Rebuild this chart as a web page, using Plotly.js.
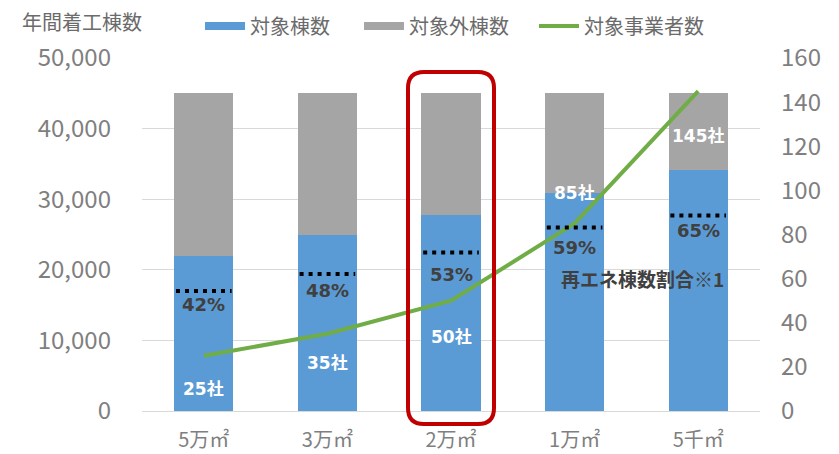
<!DOCTYPE html>
<html>
<head>
<meta charset="utf-8">
<script src="https://cdn.plot.ly/plotly-3.0.1.min.js"></script>
<style>html,body{margin:0;padding:0;background:#fff;}#chart{width:839px;height:454px;}</style>
</head>
<body>
<div id="chart"></div>
<script>
// ---- data ----
const categories = ['5万㎡', '3万㎡', '2万㎡', '1万㎡', '5千㎡'];
const targetBuildings = [22000, 25000, 27800, 30900, 34200];      // 対象棟数
const nonTargetBuildings = [23000, 20000, 17200, 14100, 10800];   // 対象外棟数
const companies = [25, 35, 50, 85, 145];                          // 対象事業者数
const renewableShare = [42, 48, 53, 59, 65];                      // 再エネ棟数割合 (%)
const renewableBuildings = [17000, 19400, 22450, 26000, 27700];   // 再エネ棟数 (dotted markers)
const seriesNames = ['対象棟数', '対象外棟数', '対象事業者数'];
const highlightIndex = 2;

// ---- styles ----
const BLUE = '#5B9BD5', GRAY = '#A5A5A5', GREEN = '#70AD47', RED = '#C00000';
const JP = '"Noto Sans CJK JP", "Noto Sans", sans-serif';
const BOLD = '"DejaVu Sans", "Noto Sans CJK JP", sans-serif';
const M = {l: 142, r: 79, t: 58, b: 43, autoexpand: false};
const W = 839, H = 454;
const PW = W - M.l - M.r, PH = H - M.t - M.b;
const legendPad = ['\u2003\u2009', '\u2003', ''];

const traces = [];
traces.push({type: 'bar', x: categories, y: targetBuildings, marker: {color: BLUE}, showlegend: false, hoverinfo: 'skip'});
traces.push({type: 'bar', x: categories, y: nonTargetBuildings, marker: {color: GRAY}, showlegend: false, hoverinfo: 'skip'});
traces.push({type: 'scatter', mode: 'lines', x: categories, y: companies, yaxis: 'y2', line: {color: GREEN, width: 4}, showlegend: false, hoverinfo: 'skip'});
// dotted ratio markers
renewableBuildings.forEach((v, i) => {
  traces.push({type: 'scatter', mode: 'lines', xaxis: 'x2', yaxis: 'y', x: [i - 0.225, i + 0.225], y: [v, v],
    line: {color: '#000', width: 4, dash: '4px,5px'}, showlegend: false, hoverinfo: 'skip'});
});
// legend entries
traces.push({type: 'scatter', mode: 'lines', x: [null], y: [null], name: seriesNames[0] + legendPad[0], line: {color: BLUE, width: 8}});
traces.push({type: 'scatter', mode: 'lines', x: [null], y: [null], name: seriesNames[1] + legendPad[1], line: {color: GRAY, width: 8}});
traces.push({type: 'scatter', mode: 'lines', x: [null], y: [null], name: seriesNames[2] + legendPad[2], line: {color: GREEN, width: 4}});

const annotations = [];
const compShift = [-33, -29, -36, 30, -45];
companies.forEach((c, i) => {
  annotations.push({x: categories[i], y: c, xref: 'x', yref: 'y2', yshift: compShift[i], text: c + '社', showarrow: false,
    font: {family: BOLD, size: 17, color: '#fff', weight: 'bold'}});
});
const pctShift = [-14, -16, -22, -20, -15];
renewableShare.forEach((p, i) => {
  annotations.push({x: i, y: renewableBuildings[i], xref: 'x2', yref: 'y', yshift: pctShift[i], text: p + '%', showarrow: false,
    font: {family: BOLD, size: 18, color: '#404040', weight: 'bold'}});
});
annotations.push({x: 3.55, y: 18700, xref: 'x2', yref: 'y', text: '再エネ棟数割合※1', showarrow: false,
  font: {family: JP, size: 19, color: '#404040', weight: 'bold'}});
annotations.push({x: (20 - M.l) / PW, y: (M.t + PH - 22) / PH, xref: 'paper', yref: 'paper', xanchor: 'left', yanchor: 'middle',
  text: '年間着工棟数', showarrow: false, font: {family: JP, size: 20, color: '#6b6b6b'}});

// highlight rounded rectangle around one category
const boxHalfPx = 43, boxTopPx = 72, boxBottomPx = 424, boxR = 16;
const cx = (highlightIndex + 0.5) / categories.length;
const x0 = cx - boxHalfPx / PW, x1 = cx + boxHalfPx / PW;
const y1 = (M.t + PH - boxTopPx) / PH, y0 = (M.t + PH - boxBottomPx) / PH;
const rx = boxR / PW, ry = boxR / PH;
const path = `M${x0 + rx},${y0} L${x1 - rx},${y0} Q${x1},${y0} ${x1},${y0 + ry} L${x1},${y1 - ry} Q${x1},${y1} ${x1 - rx},${y1} L${x0 + rx},${y1} Q${x0},${y1} ${x0},${y1 - ry} L${x0},${y0 + ry} Q${x0},${y0} ${x0 + rx},${y0} Z`;

const layout = {
  width: W, height: H, margin: M, paper_bgcolor: '#fff', plot_bgcolor: '#fff',
  barmode: 'stack', bargap: 0.52,
  font: {family: JP, color: '#7f7f7f'},
  xaxis: {type: 'category', showgrid: false, showline: false, zeroline: false, ticks: '',
    tickfont: {family: JP, size: 20, color: '#7f7f7f'}, ticklabelstandoff: 15, fixedrange: true, automargin: false},
  xaxis2: {overlaying: 'x', range: [-0.5, categories.length - 0.5], visible: false, fixedrange: true},
  yaxis: {range: [0, 50000], dtick: 10000, tickformat: ',', gridcolor: '#D9D9D9', gridwidth: 1,
    zeroline: true, zerolinecolor: '#D9D9D9', zerolinewidth: 1, showline: false, ticks: '',
    tickfont: {family: JP, size: 24, color: '#7f7f7f'}, ticklabelstandoff: 30, fixedrange: true, automargin: false},
  yaxis2: {overlaying: 'y', side: 'right', range: [0, 160], dtick: 20, showgrid: false, zeroline: false, showline: false, ticks: '',
    tickfont: {family: JP, size: 24, color: '#7f7f7f'}, ticklabelstandoff: 20, fixedrange: true, automargin: false},
  legend: {orientation: 'h', traceorder: 'normal', x: (200 - M.l) / PW, y: (M.t + PH - 26) / PH, xanchor: 'left', yanchor: 'middle',
    font: {family: JP, size: 20, color: '#6b6b6b'}, itemwidth: 40, bgcolor: 'rgba(0,0,0,0)'},
  showlegend: true,
  annotations: annotations,
  shapes: [{type: 'path', xref: 'paper', yref: 'paper', path: path, line: {color: RED, width: 4}, layer: 'above'}]
};

Plotly.newPlot('chart', traces, layout, {displayModeBar: false, staticPlot: true});
</script>
</body>
</html>
